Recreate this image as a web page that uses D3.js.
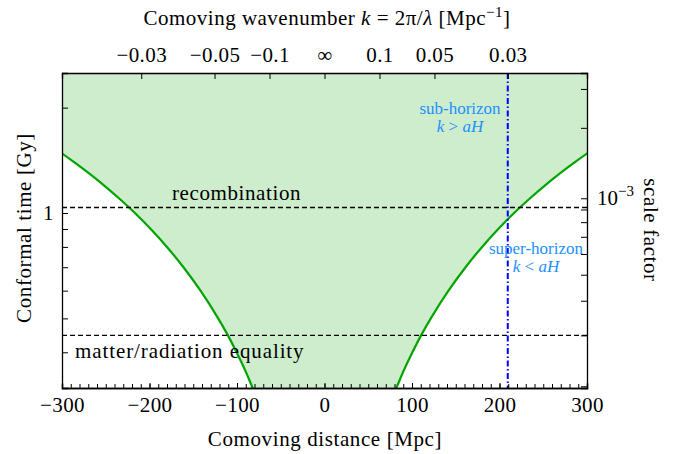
<!DOCTYPE html>
<html>
<head>
<meta charset="utf-8">
<script src="https://cdn.jsdelivr.net/npm/d3@7"></script>
<style>
  body { margin: 0; background: #fff; }
  svg text { font-family: "Liberation Serif", "DejaVu Serif", serif; fill: #000; }
</style>
</head>
<body>
<svg id="chart" width="675" height="454"></svg>
<script>
// conformal time [Gy] and comoving Hubble radius [Mpc]
var etaPoints = [0.30, 0.316, 0.35, 0.40, 0.45, 0.50, 0.60, 0.70, 0.80, 0.90, 1.00, 1.10, 1.20, 1.30, 1.40, 1.50, 2.00, 2.60];
var radiusPoints = [78, 82, 89.5, 100.5, 111, 121.5, 141.7, 161.2, 180.1, 198.6, 216.7, 234.6, 252.1, 269.4, 286.6, 303.5, 386.6, 483.7];

// horizontal markers (conformal time, Gy)
var recombinationEta = 1.037;
var equalityEta = 0.447;

// axis ticks
var distanceTicks = [-300, -200, -100, 0, 100, 200, 300];
var wavenumberTicks = [-0.03, -0.05, -0.1, Infinity, 0.1, 0.05, 0.03];
var wavenumberLabels = ["\u22120.03", "\u22120.05", "\u22120.1", "\u221e", "0.1", "0.05", "0.03"];
var timeTicks = [0.4, 0.5, 0.6, 0.7, 0.8, 0.9, 1, 2];
var scaleFactorTicks = [2e-4, 3e-4, 4e-4, 5e-4, 6e-4, 7e-4, 8e-4, 9e-4, 1e-3, 2e-3, 3e-3];
var markedWavenumber = 0.03;

// a -> conformal time, matter + radiation (constants fitted to the right axis)
var aEq = 1.8e-4, etaUnit = 52.63;
function etaOfA(a) { return etaUnit * (Math.sqrt(a + aEq) - Math.sqrt(aEq)); }

var svg = d3.select("#chart");
var margin = {top: 73, right: 88, bottom: 66, left: 62},
    width = 675 - margin.left - margin.right,
    height = 454 - margin.top - margin.bottom;

var x = d3.scaleLinear().domain([-300, 300]).range([0, width]);
var y = d3.scaleLog().domain([Math.pow(10, -0.5), Math.pow(10, 0.4)]).range([height, 0]);

var g = svg.append("g").attr("transform", "translate(" + margin.left + "," + margin.top + ")");

g.append("clipPath").attr("id", "clip")
  .append("rect").attr("width", width).attr("height", height);

var plot = g.append("g").attr("clip-path", "url(#clip)");

var pts = etaPoints.map(function(e, i) { return {eta: e, r: radiusPoints[i]}; });

// shaded sub-horizon region
plot.append("path")
  .datum(pts)
  .attr("fill", "#cdedcd")
  .attr("d", d3.area()
    .y(function(d) { return y(d.eta); })
    .x0(function(d) { return x(-d.r); })
    .x1(function(d) { return x(d.r); })
    .curve(d3.curveMonotoneY));

// horizon curves
[-1, 1].forEach(function(s) {
  plot.append("path")
    .datum(pts)
    .attr("fill", "none")
    .attr("stroke", "#00a400")
    .attr("stroke-width", 2.2)
    .attr("d", d3.line()
      .y(function(d) { return y(d.eta); })
      .x(function(d) { return x(s * d.r); })
      .curve(d3.curveMonotoneY));
});

// dashed markers
[recombinationEta, equalityEta].forEach(function(e) {
  plot.append("line")
    .attr("x1", 0).attr("x2", width)
    .attr("y1", y(e)).attr("y2", y(e))
    .attr("stroke", "#000")
    .attr("stroke-width", 1.4)
    .attr("stroke-dasharray", "5,3");
});

// k = 0.03 line
plot.append("line")
  .attr("x1", x(2 * Math.PI / markedWavenumber)).attr("x2", x(2 * Math.PI / markedWavenumber))
  .attr("y1", 0).attr("y2", height)
  .attr("stroke", "#0000ff")
  .attr("stroke-width", 2)
  .attr("stroke-dasharray", "6,2.5,1.5,2.5");

// annotations
g.append("text").attr("x", 172 - margin.left).attr("y", y(recombinationEta) - 7)
  .style("font-size", "21px").style("letter-spacing", "0.6px").text("recombination");
g.append("text").attr("x", 75 - margin.left).attr("y", y(equalityEta) + 23)
  .style("font-size", "21px").style("letter-spacing", "0.9px").text("matter/radiation equality");

function blueNote(cx, cy, word, rel) {
  var t = g.append("text").attr("text-anchor", "middle").style("font-size", "17px");
  t.append("tspan").attr("x", cx).attr("y", cy).style("fill", "#1e90ff").text(word);
  var l2 = t.append("tspan").attr("x", cx).attr("dy", 18).style("fill", "#1e90ff");
  l2.append("tspan").style("font-style", "italic").style("fill", "#1e90ff").text("k");
  l2.append("tspan").style("fill", "#1e90ff").text(" " + rel + " ");
  l2.append("tspan").style("font-style", "italic").style("fill", "#1e90ff").text("aH");
}
blueNote(460 - margin.left, 114 - margin.top, "sub-horizon", ">");
blueNote(536 - margin.left, 254 - margin.top, "super-horizon", "<");

// axes
g.append("g")
  .attr("transform", "translate(0," + height + ")")
  .call(d3.axisBottom(x).tickValues(distanceTicks).tickSize(-5).tickPadding(9)
    .tickFormat(function(d) { return d < 0 ? "\u2212" + Math.abs(d) : d; }));
g.append("g")
  .attr("transform", "translate(0," + height + ")")
  .call(d3.axisBottom(x).tickValues(d3.range(-290, 300, 10)).tickSize(-4).tickFormat(""));

g.append("g")
  .call(d3.axisTop(x).tickValues(wavenumberTicks.map(function(k) { return isFinite(k) ? 2 * Math.PI / k : 0; }))
    .tickSize(-6).tickPadding(11)
    .tickFormat(function(d, i) { return wavenumberLabels[i]; }));

g.append("g")
  .call(d3.axisLeft(y).tickValues(timeTicks).tickSize(-6).tickPadding(8)
    .tickFormat(function(d) { return d === 1 ? "1" : ""; }));

g.append("g")
  .attr("transform", "translate(" + width + ",0)")
  .call(d3.axisRight(y).tickValues(scaleFactorTicks.map(etaOfA)).tickSize(-6).tickPadding(9)
    .tickFormat(""));

g.selectAll(".domain").attr("stroke", "#000").attr("stroke-width", 1.3);
g.selectAll(".tick line").attr("stroke", "#000").attr("stroke-width", 1);
g.selectAll(".tick text").style("font-size", "21px").style("letter-spacing", "0.4px").attr("font-family", null);

// 10^-3 label
var lab = g.append("text").attr("x", width + 10).attr("y", y(etaOfA(1e-3)) + 7).style("font-size", "21px");
lab.append("tspan").text("10");
lab.append("tspan").attr("dy", -9).style("font-size", "15px").text("\u22123");

// axis titles
var topTitle = svg.append("text").attr("x", 327).attr("y", 25).attr("text-anchor", "middle")
  .style("font-size", "21px").style("letter-spacing", "0.5px");
topTitle.append("tspan").text("Comoving wavenumber ");
topTitle.append("tspan").style("font-style", "italic").text("k");
topTitle.append("tspan").text(" = 2\u03c0/");
topTitle.append("tspan").style("font-style", "italic").text("\u03bb");
topTitle.append("tspan").text(" [Mpc");
topTitle.append("tspan").attr("dy", -8).style("font-size", "15px").text("\u22121");
topTitle.append("tspan").attr("dy", 8).text("]");

svg.append("text").attr("x", 325).attr("y", 446).attr("text-anchor", "middle")
  .style("font-size", "21px").style("letter-spacing", "0.6px").text("Comoving distance [Mpc]");

svg.append("text").attr("transform", "translate(31,228) rotate(-90)").attr("text-anchor", "middle")
  .style("font-size", "21px").style("letter-spacing", "0.6px").text("Conformal time [Gy]");

svg.append("text").attr("transform", "translate(644,230) rotate(90)").attr("text-anchor", "middle")
  .style("font-size", "21px").style("letter-spacing", "0.6px").text("scale factor");
</script>
</body>
</html>
